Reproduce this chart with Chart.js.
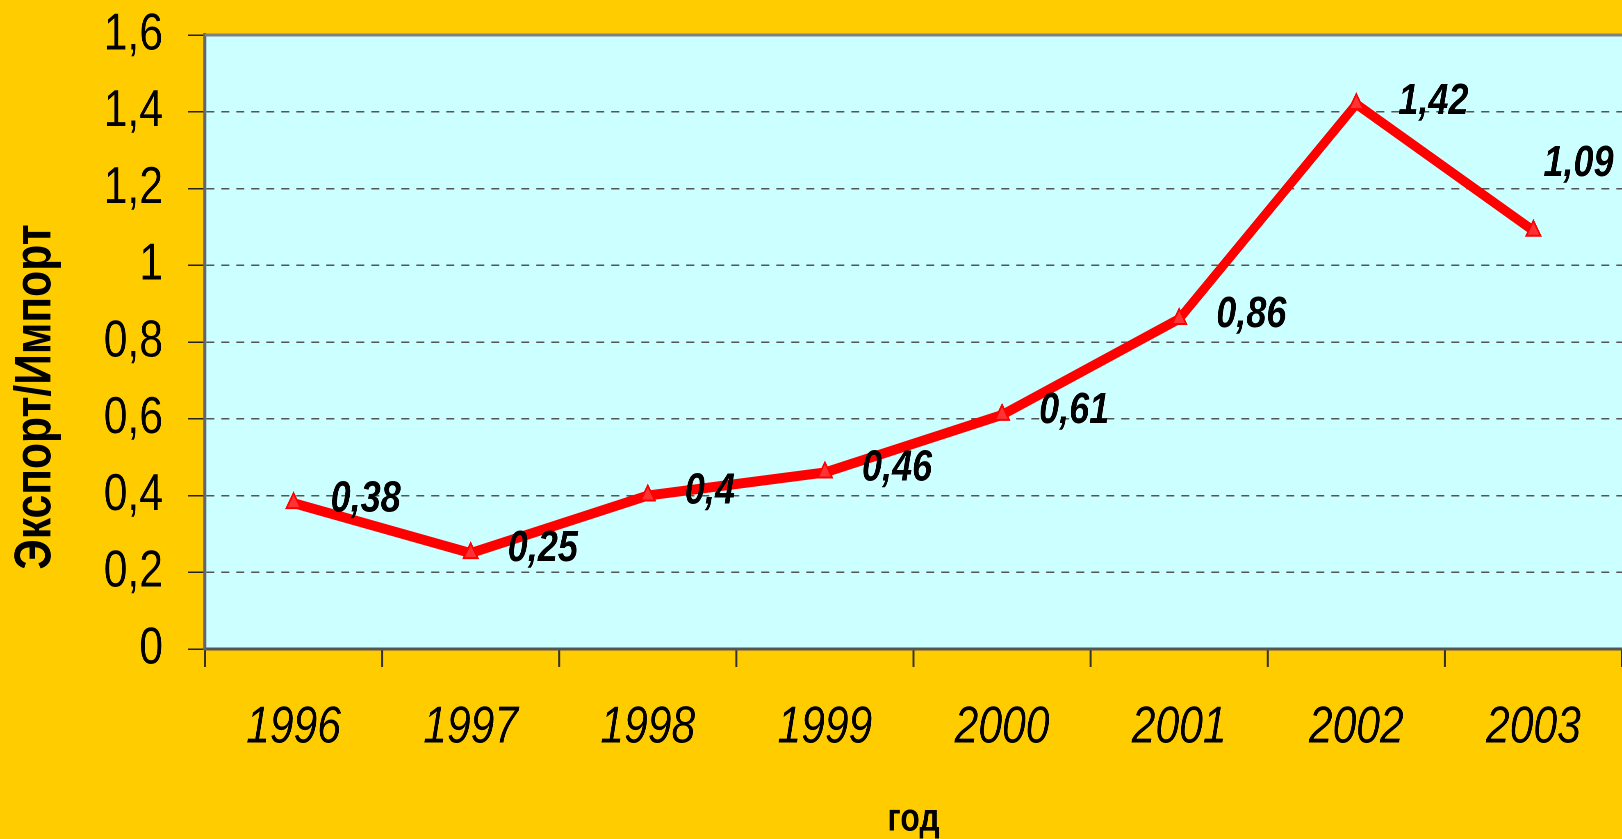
<!DOCTYPE html>
<html>
<head>
<meta charset="utf-8">
<script src="https://cdn.jsdelivr.net/npm/chart.js@4/dist/chart.umd.min.js"></script>
<style>
  html,body{margin:0;padding:0;background:#FFCC00;overflow:hidden;}
  /* the original uses a narrow face; squeeze the whole drawing sideways */
  #wrap{width:1978px;height:839px;position:relative;transform:scaleX(0.82);transform-origin:0 0;}
</style>
</head>
<body>
<div id="wrap"><canvas id="chart" width="1978" height="839"></canvas></div>
<script>
// data
const years = ['1996','1997','1998','1999','2000','2001','2002','2003'];
const ratio = [0.38, 0.25, 0.4, 0.46, 0.61, 0.86, 1.42, 1.09];
const yTicks = [0, 0.2, 0.4, 0.6, 0.8, 1, 1.2, 1.4, 1.6];
const yTitle = 'Экспорт/Импорт';
const xTitle = 'год';

const SQ = 0.82; // horizontal squeeze applied by css
const fam = "'Liberation Sans', Arial, sans-serif";
const comma = v => String(+(+v).toFixed(2)).replace('.', ',');

// backgrounds + top border of plot
const bgPlugin = {
  id:'bg',
  beforeDraw(chart){
    const {ctx, chartArea:a, width, height} = chart;
    ctx.save();
    ctx.fillStyle='#FFCC00'; ctx.fillRect(0,0,width,height);
    ctx.fillStyle='#CCFFFF'; ctx.fillRect(a.left,a.top,a.right-a.left,a.bottom-a.top);
    ctx.restore();
  },
  afterDraw(chart){
    const {ctx, chartArea:a} = chart;
    ctx.save();
    ctx.strokeStyle='#808080'; ctx.lineWidth=3;
    ctx.beginPath(); ctx.moveTo(a.left,a.top); ctx.lineTo(a.right,a.top); ctx.stroke();
    ctx.restore();
  }
};

// value labels next to points, y title
const labelPlugin = {
  id:'vals',
  afterDatasetsDraw(chart){
    const ctx=chart.ctx, meta=chart.getDatasetMeta(0);
    ctx.save();
    ctx.font="italic bold 44px "+fam;
    ctx.fillStyle='#000'; ctx.textAlign='left'; ctx.textBaseline='middle';
    meta.data.forEach((pt,i)=>{
      let dx=37, dy=-4;
      if(i===6){ dx=42; dy=-2; }
      if(i===ratio.length-1){ dx=10; dy=-67; }
      ctx.fillText(comma(ratio[i]), pt.x+dx/SQ, pt.y+dy);
    });
    ctx.restore();

    // rotated title: undo the sideways squeeze, squeeze along its length instead
    ctx.save();
    ctx.font="bold 52px "+fam;
    ctx.fillStyle='#000'; ctx.textAlign='center'; ctx.textBaseline='middle';
    ctx.translate(36/SQ, 397);
    ctx.scale(1/SQ, SQ);
    ctx.rotate(-Math.PI/2);
    ctx.fillText(yTitle, 0, 0);
    ctx.restore();
  }
};

new Chart(document.getElementById('chart'), {
  type:'line',
  data:{
    labels:years,
    datasets:[{
      data:ratio,
      borderColor:'#FF0000',
      borderWidth:10,
      pointStyle:'triangle',
      pointRadius:10,
      pointBorderWidth:2,
      pointBorderColor:'#FF0000',
      pointBackgroundColor:'#FF3333',
      tension:0
    }]
  },
  options:{
    responsive:false,
    animation:false,
    devicePixelRatio:2,
    // autoPadding would keep a strip free on the right for the points; the original plot runs to the edge
    layout:{autoPadding:false,padding:{top:35,right:0,left:0,bottom:0}},
    plugins:{legend:{display:false},tooltip:{enabled:false}},
    scales:{
      x:{
        offset:true,
        grid:{offset:true,drawOnChartArea:false,drawTicks:true,tickLength:18,tickColor:'#333',tickWidth:2/SQ},
        border:{color:'#555',width:3},
        ticks:{color:'#000',padding:0,maxRotation:0,font:{family:fam,size:52,style:'italic',lineHeight:2.35}},
        title:{display:true,text:xTitle,color:'#000',padding:{top:0,bottom:0},font:{family:fam,size:39,weight:'bold',lineHeight:1}},
        afterFit(s){ s.height=190; s.paddingLeft=0; s.paddingRight=0; }
      },
      y:{
        min:0, max:1.6,
        afterBuildTicks(s){ s.ticks=yTicks.map(v=>({value:v})); },
        grid:{color:'#555',lineWidth:1.5,tickLength:17/SQ,tickColor:'#222',tickWidth:1.5},
        border:{color:'#666',width:3/SQ,dash:[8/SQ,7/SQ]},
        // tiny lineHeight keeps the label box from pushing the plot down
        ticks:{color:'#000',padding:25/SQ,callback:v=>comma(v),font:{family:fam,size:52,lineHeight:0.1}},
        afterFit(s){ s.width=205/SQ; }
      }
    }
  },
  plugins:[bgPlugin,labelPlugin]
});
</script>
</body>
</html>
